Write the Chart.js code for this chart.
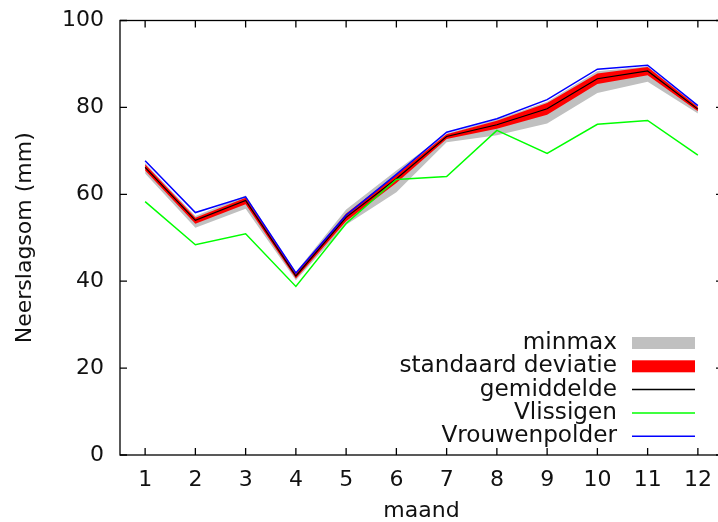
<!DOCTYPE html>
<html>
<head>
<meta charset="utf-8">
<script src="https://cdn.jsdelivr.net/npm/chart.js@4.4.1/dist/chart.umd.min.js"></script>
<style>
    html, body { margin: 0; padding: 0; background: #fff; overflow: hidden; }
    #wrap { width: 718px; height: 522px; overflow: hidden; }
</style>
</head>
<body>
<div id="wrap"><canvas id="neerslagChart" width="730" height="522" style="width:730px;height:522px"></canvas></div>
<script>
// maanden en neerslagsom (mm)
const months = [1, 2, 3, 4, 5, 6, 7, 8, 9, 10, 11, 12];
const yTicks = [0, 20, 40, 60, 80, 100];

const minmaxUpper = [67.2, 55.0, 59.7, 42.1, 56.5, 65.5, 74.0, 77.2, 81.3, 88.3, 89.4, 80.3];
const minmaxLower = [64.8, 52.3, 56.7, 40.2, 53.0, 60.5, 72.0, 73.6, 76.3, 83.3, 85.9, 78.6];
const sdUpper     = [66.9, 54.6, 59.2, 41.8, 55.6, 64.5, 73.8, 76.9, 81.0, 87.8, 89.3, 80.1];
const sdLower     = [65.5, 53.2, 57.7, 40.6, 53.8, 62.6, 72.7, 75.1, 78.3, 85.4, 87.4, 79.1];
const gemiddelde  = [66.2, 54.0, 58.6, 41.2, 54.7, 63.6, 73.3, 76.0, 79.7, 86.6, 88.4, 79.6];
const vlissigen   = [58.3, 48.4, 50.9, 38.8, 53.3, 63.4, 64.1, 74.7, 69.4, 76.1, 77.0, 69.0];
const vrouwenpolder = [67.7, 55.8, 59.4, 41.9, 55.2, 64.6, 74.3, 77.4, 81.8, 88.8, 89.7, 80.4];

const legendItems = [
    { label: 'minmax', color: '#c0c0c0', box: true },
    { label: 'standaard deviatie', color: '#ff0000', box: true },
    { label: 'gemiddelde', color: '#000000', box: false },
    { label: 'Vlissigen', color: '#00ff00', box: false },
    { label: 'Vrouwenpolder', color: '#0000ff', box: false }
];

const toPoints = arr => arr.map((v, i) => ({ x: months[i], y: v }));

Chart.defaults.font.family = "'DejaVu Sans', sans-serif";
Chart.defaults.font.size = 22;
Chart.defaults.color = '#111';

// gnuplot-achtig kader met tickjes naar binnen
const framePlugin = {
    id: 'frame',
    afterDatasetsDraw(chart) {
        const ctx = chart.ctx;
        const { left, right, top, bottom } = chart.chartArea;
        const xs = chart.scales.x, ys = chart.scales.y;
        ctx.save();
        ctx.strokeStyle = '#000';
        ctx.lineWidth = 1.3;
        ctx.strokeRect(left, top, right - left, bottom - top);
        ctx.beginPath();
        months.forEach(m => {
            const px = xs.getPixelForValue(m);
            ctx.moveTo(px, bottom); ctx.lineTo(px, bottom - 7);
            ctx.moveTo(px, top); ctx.lineTo(px, top + 7);
        });
        yTicks.forEach(t => {
            const py = ys.getPixelForValue(t);
            ctx.moveTo(left, py); ctx.lineTo(left + 7, py);
            ctx.moveTo(right, py); ctx.lineTo(right - 7, py);
        });
        ctx.stroke();
        ctx.restore();
    }
};

// legenda rechtsonder in het plotvlak, tekst rechts uitgelijnd
const legendPlugin = {
    id: 'gpLegend',
    afterDraw(chart) {
        const ctx = chart.ctx;
        const textRight = 617, sampleLeft = 632, sampleRight = 695;
        const firstRow = 343, rowGap = 23.3;
        ctx.save();
        ctx.font = "23.2px 'DejaVu Sans', sans-serif";
        ctx.textAlign = 'right';
        ctx.textBaseline = 'middle';
        legendItems.forEach((it, i) => {
            const y = firstRow + i * rowGap;
            ctx.fillStyle = '#111';
            ctx.fillText(it.label, textRight, y);
            if (it.box) {
                ctx.fillStyle = it.color;
                ctx.fillRect(sampleLeft, y - 6, sampleRight - sampleLeft, 12);
            } else {
                ctx.strokeStyle = it.color;
                ctx.lineWidth = 1.5;
                ctx.beginPath();
                ctx.moveTo(sampleLeft, y);
                ctx.lineTo(sampleRight, y);
                ctx.stroke();
            }
        });
        ctx.restore();
    }
};

const bandStyle = { borderWidth: 0, pointRadius: 0, tension: 0 };
const lineStyle = { fill: false, pointRadius: 0, tension: 0, borderWidth: 1.5 };

new Chart(document.getElementById('neerslagChart').getContext('2d'), {
    type: 'line',
    data: {
        datasets: [
            { ...bandStyle, label: 'minmax', data: toPoints(minmaxUpper), backgroundColor: '#c0c0c0', fill: '+1', order: 7 },
            { ...bandStyle, label: 'min', data: toPoints(minmaxLower), fill: false, order: 7 },
            { ...bandStyle, label: 'standaard deviatie', data: toPoints(sdUpper), backgroundColor: '#ff0000', fill: '+1', order: 6 },
            { ...bandStyle, label: 'sd laag', data: toPoints(sdLower), fill: false, order: 6 },
            { ...lineStyle, label: 'gemiddelde', data: toPoints(gemiddelde), borderColor: '#000000', borderWidth: 1.2, order: 3 },
            { ...lineStyle, label: 'Vlissigen', data: toPoints(vlissigen), borderColor: '#00ff00', order: 2 },
            { ...lineStyle, label: 'Vrouwenpolder', data: toPoints(vrouwenpolder), borderColor: '#0000ff', order: 1 }
        ]
    },
    options: {
        responsive: false,
        animation: false,
        layout: { padding: { top: 20.5, right: 7, left: 0, bottom: 0 } },
        plugins: {
            legend: { display: false },
            tooltip: { enabled: false }
        },
        scales: {
            x: {
                type: 'linear',
                min: 0.5,
                max: 12.5,
                grid: { display: false, drawTicks: false },
                border: { display: false },
                afterBuildTicks: scale => { scale.ticks = months.map(m => ({ value: m })); },
                afterFit: scale => { scale.height = 67; scale.paddingLeft = 0; scale.paddingRight = 0; },
                ticks: { padding: 12, autoSkip: false, maxRotation: 0 },
                title: { display: true, text: 'maand', font: { lineHeight: 1 }, padding: { top: 0, bottom: 0 } }
            },
            y: {
                min: 0,
                max: 100,
                grid: { display: false, drawTicks: false },
                border: { display: false },
                afterBuildTicks: scale => { scale.ticks = yTicks.map(t => ({ value: t })); },
                afterFit: scale => { scale.width = 120; scale.paddingTop = 0; scale.paddingBottom = 0; },
                ticks: { padding: 16 },
                title: { display: true, text: 'Neerslagsom (mm)', padding: { top: 12, bottom: 0 } }
            }
        }
    },
    plugins: [framePlugin, legendPlugin]
});
</script>
</body>
</html>
